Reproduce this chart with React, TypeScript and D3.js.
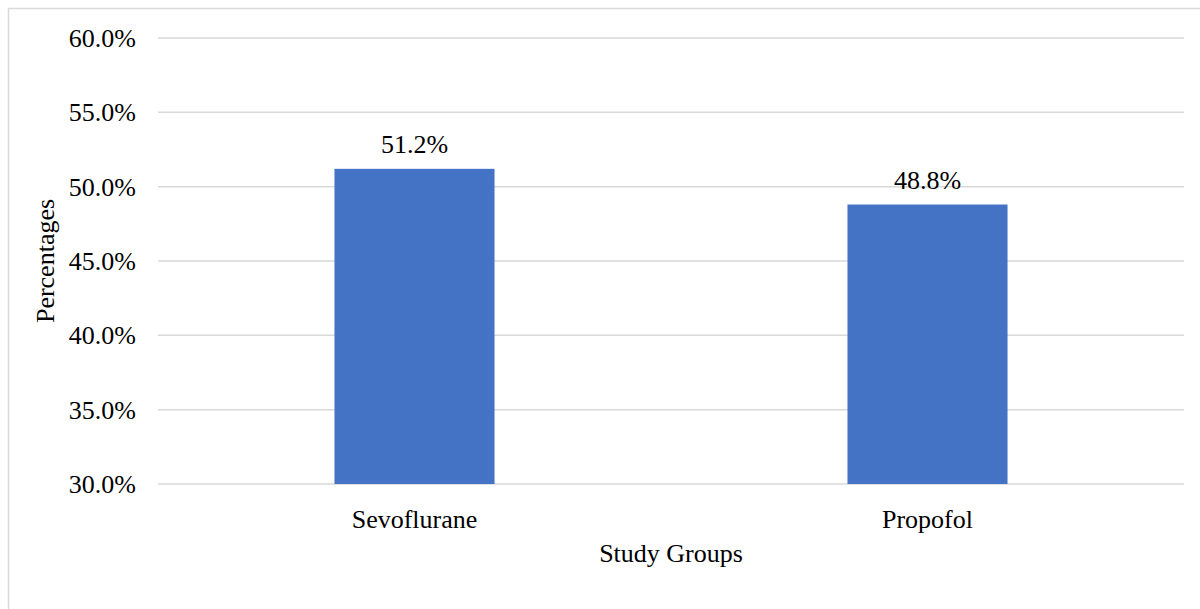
import React from "react";
import * as d3 from "d3";

const categories = ["Sevoflurane", "Propofol"];
const values = [51.2, 48.8];
const yTicks = [30, 35, 40, 45, 50, 55, 60];

export default function App() {
  const W = 1200, H = 609;
  const left = 158, right = 1184, top = 38, bottom = 484;
  const x = d3.scaleBand().domain(categories).range([left, right]).paddingInner(0.688).paddingOuter(0.344);
  const y = d3.scaleLinear().domain([30, 60]).range([bottom, top]);
  const font = "'Liberation Serif', 'Times New Roman', serif";
  return (
    <svg width={W} height={H} style={{ position: "absolute", left: 0, top: 0, background: "#fff" }} fontFamily={font}>
      <rect x={8.5} y={8.5} width={W + 10} height={H + 10} fill="#fff" stroke="#d9d9d9" strokeWidth={1.5} />
      {yTicks.map((t) => (
        <g key={t}>
          <line x1={left} x2={right} y1={y(t)} y2={y(t)} stroke="#d9d9d9" strokeWidth={1.5} />
          <text x={136} y={y(t)} dy="0.35em" textAnchor="end" fontSize={26} fill="#000">
            {t.toFixed(1) + "%"}
          </text>
        </g>
      ))}
      {categories.map((c, i) => (
        <g key={c}>
          <rect x={x(c)} y={y(values[i])} width={x.bandwidth()} height={y(30) - y(values[i])} fill="#4472c4" />
          <text x={x(c)! + x.bandwidth() / 2} y={y(values[i]) - 25} dy="0.35em" textAnchor="middle" fontSize={26} fill="#000">
            {values[i].toFixed(1) + "%"}
          </text>
          <text x={x(c)! + x.bandwidth() / 2} y={519} dy="0.35em" textAnchor="middle" fontSize={26} fill="#000">
            {c}
          </text>
        </g>
      ))}
      <text x={(left + right) / 2} y={553} dy="0.35em" textAnchor="middle" fontSize={26} fill="#000">
        Study Groups
      </text>
      <text transform={`translate(45, ${(top + bottom) / 2}) rotate(-90)`} dy="0.35em" textAnchor="middle" fontSize={26} fill="#000">
        Percentages
      </text>
    </svg>
  );
}
